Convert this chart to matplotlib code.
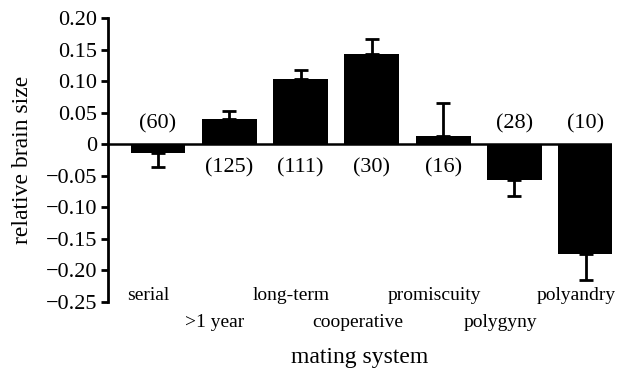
import matplotlib
matplotlib.use("Agg")
import matplotlib.pyplot as plt
import matplotlib.transforms as mtransforms

plt.rcParams['font.family'] = ['Liberation Serif', 'DejaVu Serif']

systems = ["serial", ">1 year", "long-term", "cooperative", "promiscuity", "polygyny", "polyandry"]
brain_size = [-0.013, 0.040, 0.103, 0.143, 0.014, -0.056, -0.174]
brain_err = [0.023, 0.013, 0.015, 0.024, 0.052, 0.026, 0.041]
n_species = [60, 125, 111, 30, 16, 28, 10]
yticks = [0.20, 0.15, 0.10, 0.05, 0.0, -0.05, -0.10, -0.15, -0.20, -0.25]
ytick_labels = ["0.20", "0.15", "0.10", "0.05", "0", "\u22120.05", "\u22120.10",
                "\u22120.15", "\u22120.20", "\u22120.25"]

fig = plt.figure(figsize=(6.32, 3.69), dpi=100)
ax = fig.add_axes([0.171, 0.1816, 0.797, 0.7688])

x = list(range(len(systems)))
ax.bar(x, brain_size, width=0.77, color="black", zorder=2)

# one-sided error bars, pointing away from zero
lower = [e if v < 0 else 0 for v, e in zip(brain_size, brain_err)]
upper = [e if v >= 0 else 0 for v, e in zip(brain_size, brain_err)]
ax.errorbar(x, brain_size, yerr=[lower, upper], fmt="none", ecolor="black",
            elinewidth=2, capsize=5, capthick=2, zorder=1)

ax.axhline(0, color="black", lw=1.8, zorder=3)

ax.set_xlim(-0.70, 6.365)
ax.set_ylim(-0.25, 0.20)
ax.set_yticks(yticks)
ax.set_yticklabels(ytick_labels, fontsize=16)
ax.set_xticks([])
for s in ("top", "right", "bottom"):
    ax.spines[s].set_visible(False)
ax.spines["left"].set_linewidth(2)
ax.tick_params(axis="y", direction="out", length=5, width=2, pad=3)

# sample sizes: above the zero line for negative bars (and serial), below for positive
for i, (v, n) in enumerate(zip(brain_size, n_species)):
    above = v < 0
    ax.annotate(f"({n})", xy=(i, 0), xytext=(0, 14.5 if above else -17),
                textcoords="offset points", ha="center", va="center", fontsize=16)

# staggered category names
trans = mtransforms.blended_transform_factory(ax.transData, ax.transAxes)
for i, name in enumerate(systems):
    if i % 2 == 0:
        xpos, ypos = i - 0.13, 0.022
    else:
        xpos, ypos = i - 0.2, -0.072
    ax.text(xpos, ypos, name, transform=trans, ha="center", va="center", fontsize=14)

ax.text(0.5, -0.194, "mating system", transform=ax.transAxes, ha="center",
        va="center", fontsize=17)
ax.set_ylabel("relative brain size", fontsize=17, labelpad=9)

fig.savefig("out.png", dpi=100)
